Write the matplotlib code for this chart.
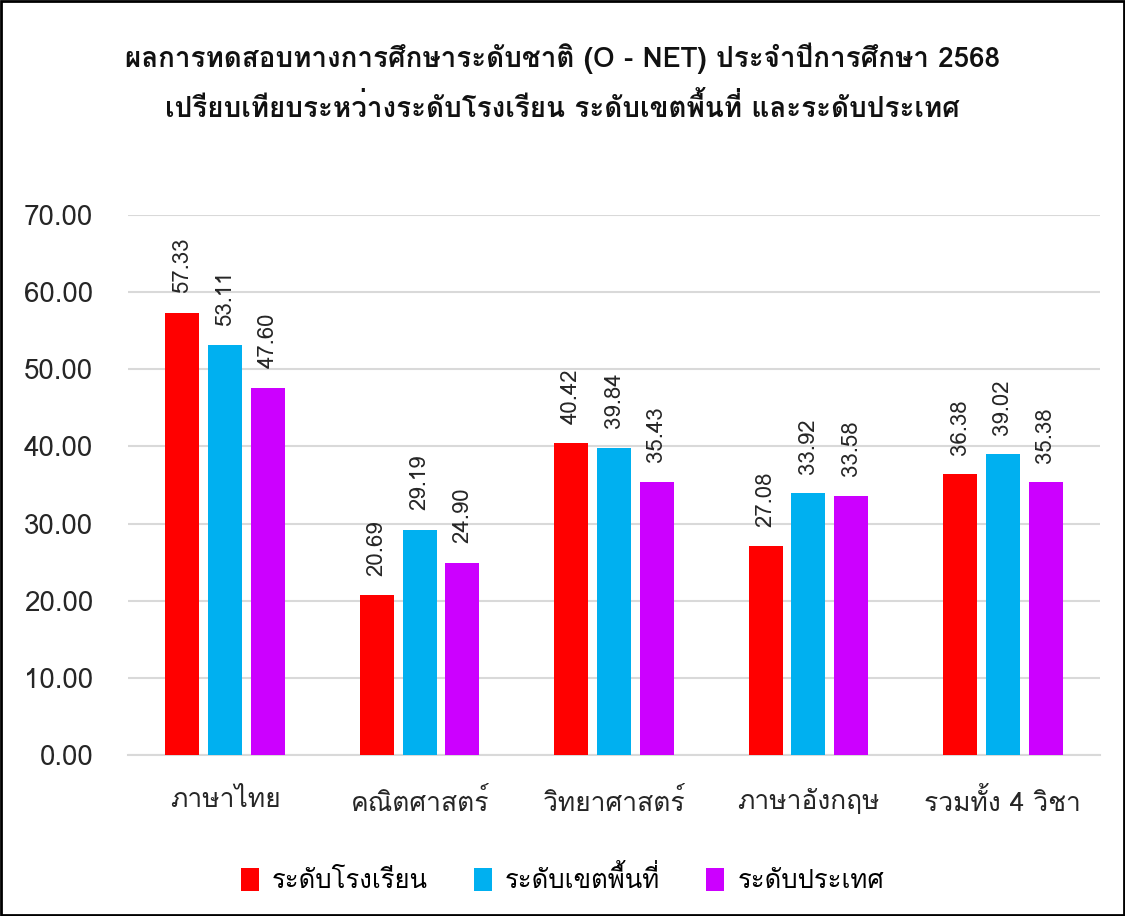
import matplotlib
matplotlib.use("Agg")
import matplotlib.pyplot as plt
from matplotlib import font_manager
from matplotlib.ft2font import FT2Font
from matplotlib.patches import Rectangle
import numpy as np

# data
subjects = ["ภาษาไทย", "คณิตศาสตร์", "วิทยาศาสตร์", "ภาษาอังกฤษ", "รวมทั้ง 4 วิชา"]
school = [57.33, 20.69, 40.42, 27.08, 36.38]
area = [53.11, 29.19, 39.84, 33.92, 39.02]
country = [47.60, 24.90, 35.43, 33.58, 35.38]
series_names = ["ระดับโรงเรียน", "ระดับเขตพื้นที่", "ระดับประเทศ"]
colors = ["#FF0000", "#00B0F0", "#CC00FF"]
title_lines = ["ผลการทดสอบทางการศึกษาระดับชาติ (O - NET) ประจำปีการศึกษา 2568",
               "เปรียบเทียบระหว่างระดับโรงเรียน ระดับเขตพื้นที่ และระดับประเทศ"]


def find_thai_font():
    # any installed family that has Thai glyphs
    names = []
    for f in font_manager.fontManager.ttflist:
        try:
            ft = FT2Font(f.fname)
            if ft.get_char_index(ord("ก")):
                names.append(f.name)
        except Exception:
            pass
    return names


thai = find_thai_font()
plt.rcParams["font.family"] = list(dict.fromkeys(thai)) + ["DejaVu Sans"]

fig = plt.figure(figsize=(11.25, 9.16), dpi=100)
ax = fig.add_axes([0.1138, 0.1758, 0.864, 0.5895])

x = np.arange(len(subjects))
w = 0.175
off = 0.22
for i, vals in enumerate([school, area, country]):
    bars = ax.bar(x + (i - 1) * off, vals, w, color=colors[i], label=series_names[i], zorder=3)
    for b, v in zip(bars, vals):
        ax.annotate(f"{v:.2f}", (b.get_x() + b.get_width() / 2, v), xytext=(0, 14),
                    textcoords="offset points", rotation=90, ha="center", va="bottom",
                    fontsize=16, color="#262626")

ax.set_xlim(-0.5, 4.5)
ax.set_ylim(0, 70)
ax.set_yticks(np.arange(0, 71, 10))
ax.set_yticklabels([f"{t:.2f}" for t in range(0, 71, 10)], fontsize=20, color="#262626")
ax.set_xticks(x)
ax.set_xticklabels(subjects, fontsize=19, color="#262626")
ax.tick_params(axis="y", length=0, pad=25)
ax.tick_params(axis="x", length=0, pad=24)
ax.grid(axis="y", color="#D9D9D9", linewidth=1.5, zorder=0)
for s in ["top", "right", "left"]:
    ax.spines[s].set_visible(False)
ax.spines["bottom"].set_color("#D9D9D9")
ax.spines["bottom"].set_linewidth(1.5)

fig.text(0.5, 0.9367, title_lines[0], ha="center", va="center", fontsize=20,
         fontweight="bold", color="#111111")
fig.text(0.5, 0.8832, title_lines[1], ha="center", va="center", fontsize=20,
         fontweight="bold", color="#111111")

fig.legend(loc="center", bbox_to_anchor=(0.5, 0.04), ncol=3, frameon=False,
           fontsize=18.5, handlelength=0.7, handleheight=1.0, columnspacing=1.8,
           handletextpad=0.5)

fig.patches.append(Rectangle((0.001, 0.001), 0.998, 0.998, transform=fig.transFigure,
                             fill=False, edgecolor="black", linewidth=2))

fig.savefig("out.png", dpi=100)
